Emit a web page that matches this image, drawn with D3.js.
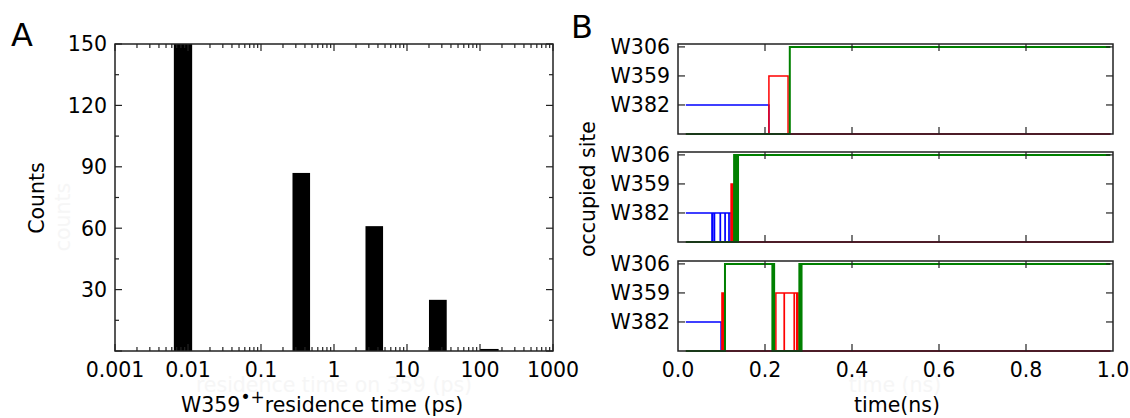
<!DOCTYPE html>
<html>
<head>
<meta charset="utf-8">
<script src="https://cdn.jsdelivr.net/npm/d3@7"></script>
<style>
  body { margin: 0; background: #fff; }
  svg { font-family: "DejaVu Sans", sans-serif; }
</style>
</head>
<body>
<div id="chart"></div>
<script>
// panel A: histogram of residence times (log bins, ps)
const binLo = [0.0064, 0.27, 2.7, 20, 100];
const binHi = [0.0114, 0.47, 4.7, 35, 180];
const counts = [150, 87, 61, 25, 1];
const xTicksA = [0.001, 0.01, 0.1, 1, 10, 100, 1000];
const xTickLabelsA = ["0.001", "0.01", "0.1", "1", "10", "100", "1000"];
const yTicksA = [30, 60, 90, 120, 150];

// panel B: occupied site traces, [time ns, site] (0 = none, 1 = W382, 2 = W359, 3 = W306)
const siteNames = ["W382", "W359", "W306"];
const siteColors = ["#0000ff", "#ff0000", "#008000"];
const trace1 = [[0.018, 1], [0.209, 2], [0.253, 0], [0.257, 3]];
const trace2 = [[0.018, 1], [0.078, 0], [0.079, 1], [0.083, 0], [0.084, 1], [0.097, 0], [0.0975, 1],
  [0.108, 0], [0.1085, 1], [0.117, 0], [0.1175, 1], [0.122, 2], [0.123, 0], [0.1235, 2], [0.1245, 0],
  [0.125, 2], [0.126, 0], [0.1265, 2], [0.129, 3], [0.130, 2], [0.131, 3], [0.132, 2], [0.133, 3],
  [0.134, 0], [0.135, 3], [0.136, 0], [0.138, 3]];
const trace3 = [[0.018, 1], [0.099, 0], [0.101, 2], [0.104, 0], [0.108, 3], [0.217, 0], [0.218, 3],
  [0.219, 0], [0.220, 3], [0.221, 0], [0.225, 2], [0.244, 0], [0.2445, 2], [0.267, 0], [0.2675, 2],
  [0.273, 0], [0.2735, 2], [0.276, 0], [0.279, 3], [0.280, 0], [0.281, 3], [0.282, 0], [0.284, 3]];
const traces = [trace1, trace2, trace3];
const traceEnd = 0.994;
const xTicksB = [0, 0.2, 0.4, 0.6, 0.8, 1.0];

const svg = d3.select("#chart").append("svg")
  .attr("width", 1130)
  .attr("height", 418);

const frameColor = "#222";
const fs = 20.5;
const ghost = "#f6f6f6";

// ---------- panel A ----------
const xA = d3.scaleLog().domain([0.001, 1000]).range([115, 553]);
const yA = d3.scaleLinear().domain([0, 150]).range([351, 44]);

const gA = svg.append("g");

// faint leftover labels underneath everything
gA.append("text").attr("x", 334).attr("y", 392).attr("text-anchor", "middle")
  .attr("font-size", fs).attr("fill", ghost).text("residence time on 359 (ps)");
gA.append("text").attr("transform", "translate(70,217) rotate(-90)").attr("text-anchor", "middle")
  .attr("font-size", fs).attr("fill", ghost).text("counts");

gA.selectAll("rect.bar")
  .data(counts)
  .enter()
  .append("rect")
  .attr("class", "bar")
  .attr("x", (d, i) => xA(binLo[i]))
  .attr("width", (d, i) => xA(binHi[i]) - xA(binLo[i]))
  .attr("y", d => yA(d))
  .attr("height", d => yA(0) - yA(d))
  .attr("fill", "black");

// inward ticks on all four sides
const minorA = [];
for (let e = -3; e < 3; e++) {
  for (let m = 2; m <= 9; m++) minorA.push(m * Math.pow(10, e));
}
const yMinorA = [15, 45, 75, 105, 135];

function tickLines(g, vals, pos, horiz, len, edges) {
  vals.forEach(v => {
    edges.forEach(([e, dir]) => {
      if (horiz) {
        g.append("line").attr("x1", pos(v)).attr("x2", pos(v))
          .attr("y1", e).attr("y2", e + dir * len);
      } else {
        g.append("line").attr("y1", pos(v)).attr("y2", pos(v))
          .attr("x1", e).attr("x2", e + dir * len);
      }
    });
  });
}

const ticksA = gA.append("g").attr("stroke", frameColor).attr("stroke-width", 1.2);
tickLines(ticksA, xTicksA, xA, true, 7, [[351, -1], [44, 1]]);
tickLines(ticksA, minorA, xA, true, 4, [[351, -1], [44, 1]]);
tickLines(ticksA, [0].concat(yTicksA), yA, false, 7, [[115, 1], [553, -1]]);
tickLines(ticksA, yMinorA, yA, false, 4, [[115, 1], [553, -1]]);

gA.append("rect")
  .attr("x", 115).attr("y", 44)
  .attr("width", 553 - 115).attr("height", 351 - 44)
  .attr("fill", "none").attr("stroke", frameColor).attr("stroke-width", 1.5);

gA.selectAll("text.ylab")
  .data(yTicksA)
  .enter()
  .append("text")
  .attr("x", 107)
  .attr("y", d => yA(d))
  .attr("dy", "0.36em")
  .attr("text-anchor", "end")
  .attr("font-size", fs)
  .text(d => d);

gA.selectAll("text.xlab")
  .data(xTicksA)
  .enter()
  .append("text")
  .attr("x", d => xA(d))
  .attr("y", 377)
  .attr("text-anchor", "middle")
  .attr("font-size", fs)
  .text((d, i) => xTickLabelsA[i]);

const xlabA = gA.append("text").attr("x", 181).attr("y", 412).attr("font-size", fs);
xlabA.append("tspan").text("W359");
xlabA.append("tspan").attr("font-size", 17).attr("dy", -9).text("\u2022+");
xlabA.append("tspan").attr("dy", 9).text("residence time (ps)");

gA.append("text")
  .attr("transform", "translate(44,198) rotate(-90)")
  .attr("text-anchor", "middle")
  .attr("font-size", fs)
  .text("Counts");

svg.append("text").attr("x", 11).attr("y", 46).attr("font-size", 32).text("A");
svg.append("text").attr("x", 571).attr("y", 38).attr("font-size", 32).text("B");

// ---------- panel B ----------
const xB = d3.scaleLinear().domain([0, 1]).range([678, 1113]);
const panelTops = [44, 152, 261];
const panelH = 90;

svg.append("text").attr("x", 895).attr("y", 392).attr("text-anchor", "middle")
  .attr("font-size", fs).attr("fill", ghost).text("time (ns)");

traces.forEach((trace, p) => {
  const top = panelTops[p];
  const yB = d3.scaleLinear().domain([0, 3.1]).range([top + panelH, top]);
  const g = svg.append("g");

  const line = d3.line()
    .x(d => xB(d[0]))
    .y(d => yB(d[1]))
    .curve(d3.curveStepAfter);

  [1, 2, 3].forEach(site => {
    const pts = trace.map(d => [d[0], d[1] === site ? site : 0]);
    pts.push([traceEnd, pts[pts.length - 1][1]]);
    g.append("path")
      .attr("d", line(pts))
      .attr("fill", "none")
      .attr("stroke", siteColors[site - 1])
      .attr("stroke-width", site === 3 ? 2 : 1.5);
  });

  const tk = g.append("g").attr("stroke", frameColor).attr("stroke-width", 1.2);
  tickLines(tk, xTicksB.slice(1, 5), xB, true, 7, [[top + panelH, -1], [top, 1]]);
  tickLines(tk, [1, 2, 3], yB, false, 7, [[678, 1], [1113, -1]]);

  g.append("rect")
    .attr("x", 678).attr("y", top)
    .attr("width", 1113 - 678).attr("height", panelH)
    .attr("fill", "none").attr("stroke", frameColor).attr("stroke-width", 1.5);

  g.selectAll("text.site")
    .data(siteNames)
    .enter()
    .append("text")
    .attr("x", 670)
    .attr("y", (d, i) => yB(i + 1))
    .attr("dy", "0.36em")
    .attr("text-anchor", "end")
    .attr("font-size", fs)
    .text(d => d);
});

svg.selectAll("text.xlabB")
  .data(xTicksB)
  .enter()
  .append("text")
  .attr("x", d => xB(d))
  .attr("y", 377)
  .attr("text-anchor", "middle")
  .attr("font-size", fs)
  .text(d => d.toFixed(1));

svg.append("text")
  .attr("x", 897).attr("y", 412)
  .attr("text-anchor", "middle")
  .attr("font-size", fs)
  .text("time(ns)");

svg.append("text")
  .attr("transform", "translate(595,189) rotate(-90)")
  .attr("text-anchor", "middle")
  .attr("font-size", fs)
  .text("occupied site");
</script>
</body>
</html>
